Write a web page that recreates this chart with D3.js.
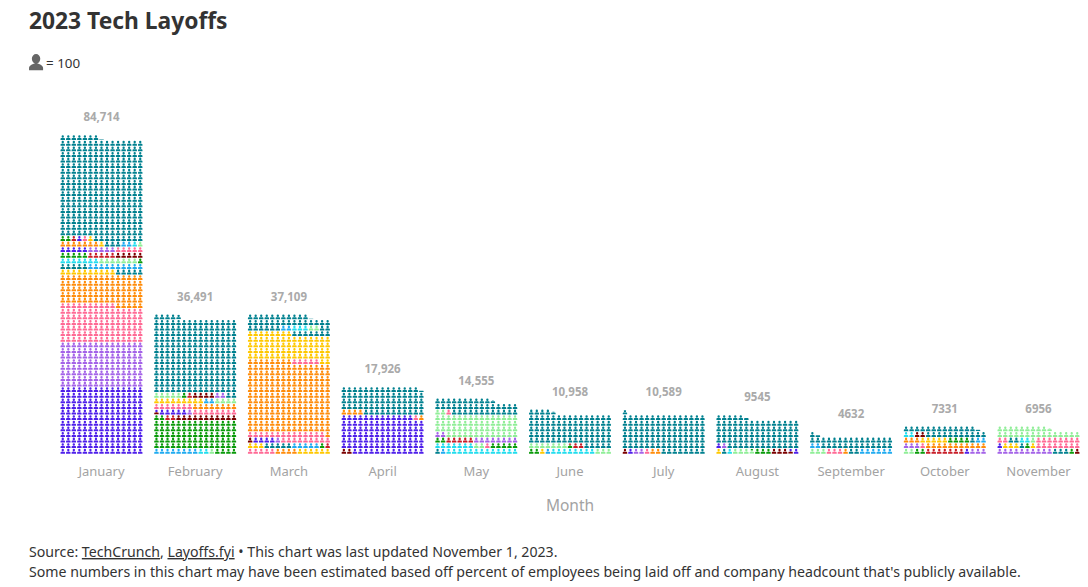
<!DOCTYPE html>
<html>
<head>
<meta charset="utf-8">
<script src="https://cdn.jsdelivr.net/npm/d3@7"></script>
<style>
  body { margin: 0; background: #fff; }
  text { font-family: "Noto Sans", sans-serif; }
  .axis text { fill: #a3a3a3; font-size: 13px; }
  .total { fill: #aaa; font-size: 11.5px; font-weight: 700; text-anchor: middle; }
  .note { fill: #333; font-size: 14.15px; }
</style>
</head>
<body>
<svg id="chart" width="1088" height="587"></svg>
<script>
const months = ["January", "February", "March", "April", "May", "June", "July", "August", "September", "October", "November"];
const totals = [84714, 36491, 37109, 17926, 14555, 10958, 10589, 9545, 4632, 7331, 6956];

const colors = {
  indigo: "#4e1fea", purple: "#a463e8", pink: "#ff6a95", orange: "#ff8c0a",
  yellow: "#ffc800", sky: "#20abf0", cyan: "#22ddee", green: "#0a9a0a",
  red: "#c81e28", maroon: "#7b0000", mint: "#90ee98", teal: "#00808f"
};

// layoffs per colour group, in the order they stack up from the bottom left
const january = [["indigo",18000],["purple",12000],["pink",10000],["orange",8000],["yellow",1000],["teal",1000],["sky",1000],["cyan",700],["mint",700],["green",600],["red",500],["maroon",500],["indigo",500],["purple",500],["pink",500],["orange",700],["yellow",100],["teal",300],["sky",200],["cyan",100],["mint",100],["green",200],["red",100],["indigo",100],["pink",100],["yellow",100],["teal",27114]];
const february = [["sky",800],["cyan",200],["mint",100],["green",8100],["red",200],["maroon",1150],["indigo",550],["purple",100],["pink",1500],["orange",800],["yellow",900],["sky",200],["mint",900],["green",100],["red",100],["maroon",400],["purple",200],["teal",20191]];
const march = [["pink",500],["orange",400],["yellow",900],["teal",500],["sky",500],["green",100],["red",100],["maroon",100],["indigo",400],["purple",100],["pink",2300],["orange",18900],["pink",500],["yellow",7000],["teal",1300],["sky",200],["cyan",300],["mint",200],["teal",2809]];
const april = [["maroon",200],["indigo",10100],["pink",100],["orange",500],["teal",7026]];
const may = [["teal",100],["sky",100],["cyan",2000],["mint",200],["pink",100],["green",700],["red",500],["purple",1000],["mint",6000],["pink",100],["teal",3755]];
const june = [["green",200],["yellow",100],["sky",100],["cyan",800],["mint",1000],["green",70],["red",230],["teal",8458]];
const july = [["maroon",100],["indigo",100],["purple",200],["pink",100],["orange",200],["teal",9889]];
const august = [["yellow",100],["teal",100],["cyan",100],["mint",370],["green",330],["maroon",350],["indigo",250],["purple",100],["teal",7845]];
const september = [["mint",300],["pink",300],["orange",100],["teal",200],["sky",800],["teal",2932]];
const october = [["mint",200],["green",200],["red",700],["indigo",100],["purple",600],["pink",100],["orange",1400],["yellow",500],["green",400],["teal",100],["sky",200],["cyan",200],["maroon",200],["teal",2431]];
const november = [["purple",1000],["teal",300],["green",100],["maroon",100],["indigo",100],["yellow",300],["teal",100],["green",100],["yellow",100],["pink",1000],["teal",200],["cyan",200],["mint",100],["pink",800],["mint",2456]];
const monthSegments = [january, february, march, april, may, june, july, august, september, october, november];

const perIcon = 100;
const perRow = 15;
// small marks: head plus a square shouldered body so the grid keeps its white gaps
const personPath = "M12 1.5a5 5 0 1 1 0 10a5 5 0 1 1 0-10zM2.5 20v-4c0-2.5 2-3.5 4-3.5h11c2 0 4 1 4 3.5v4z";
const legendPath = "M12 2a5.4 5.4 0 1 1 0 10.8a5.4 5.4 0 1 1 0-10.8zM3 20v-2.5c0-3 5-5 9-5s9 2 9 5v2.5z";
const iconTop = 1.5;
const iconBottom = 20;

const svg = d3.select("#chart");
const defs = svg.append("defs");

const x = d3.scaleBand().domain(months).range([54.65, 1085.35]).paddingInner(0.114).paddingOuter(0.057);
const col = d3.scaleBand().domain(d3.range(perRow)).range([0, x.bandwidth()]);
const y = d3.scaleLinear().domain([0, 57]).range([454, 134.8]);
const iconScaleX = 0.235;
const iconScaleY = 0.265;

// walk through the groups and cut them into icons, a split icon is clipped from the bottom
let marks = [];
months.forEach((m, i) => {
  let pos = 0;
  monthSegments[i].forEach(([group, value]) => {
    let end = pos + value / perIcon;
    for (let n = Math.floor(pos + 1e-9); n < end - 1e-9; n++) {
      let lo = Math.max(pos - n, 0);
      let hi = Math.min(end - n, 1);
      marks.push({month: m, group, n, lo, hi});
    }
    pos = end;
  });
});

marks.forEach((d, i) => {
  if (d.lo > 0 || d.hi < 1) {
    d.clip = "c" + i;
    let h = iconBottom - iconTop;
    defs.append("clipPath").attr("id", d.clip)
      .append("rect")
      .attr("x", 0).attr("width", 24)
      .attr("y", iconBottom - h * d.hi)
      .attr("height", h * (d.hi - d.lo));
  }
});

svg.append("g").selectAll("g.icon")
  .data(marks)
  .join("g")
  .attr("class", "icon")
  .attr("transform", d => {
    let c = d.n % perRow;
    let r = Math.floor(d.n / perRow);
    let px = x(d.month) + col(c) + col.bandwidth() / 2 - 12 * iconScaleX;
    let py = y(r) - iconBottom * iconScaleY - 0.3;
    return `translate(${px},${py}) scale(${iconScaleX},${iconScaleY})`;
  })
  .append("path")
  .attr("d", personPath)
  .attr("fill", d => colors[d.group])
  .attr("clip-path", d => d.clip ? `url(#${d.clip})` : null);

const fmt = v => v >= 10000 ? d3.format(",")(v) : String(v);
svg.append("g").selectAll("text")
  .data(months)
  .join("text")
  .attr("class", "total")
  .attr("x", d => x(d) + x.bandwidth() / 2)
  .attr("y", (d, i) => y(Math.ceil(totals[i] / perIcon / perRow)) - 13.5)
  .text((d, i) => fmt(totals[i]));

const axis = svg.append("g")
  .attr("class", "axis")
  .attr("transform", "translate(0,464)")
  .call(d3.axisBottom(x).tickSize(0).tickPadding(3));
axis.select(".domain").remove();

svg.append("text").attr("x", 570).attr("y", 511)
  .attr("text-anchor", "middle").attr("fill", "#a3a3a3").attr("font-size", 15.5).text("Month");

svg.append("text").attr("x", 29).attr("y", 29)
  .attr("fill", "#333").attr("font-size", 22.8).attr("font-weight", 700).text("2023 Tech Layoffs");

svg.append("path").attr("d", legendPath).attr("fill", "#666")
  .attr("transform", "translate(26.7,52.2) scale(0.78,0.9)");
svg.append("text").attr("x", 46).attr("y", 68)
  .attr("fill", "#333").attr("font-size", 13.4).text("= 100");

const src = svg.append("text").attr("class", "note").attr("x", 29).attr("y", 557);
src.append("tspan").text("Source: ");
src.append("tspan").attr("text-decoration", "underline").text("TechCrunch");
src.append("tspan").text(", ");
src.append("tspan").attr("text-decoration", "underline").text("Layoffs.fyi");
src.append("tspan").text(" • This chart was last updated November 1, 2023.");

svg.append("text").attr("class", "note").attr("x", 29).attr("y", 577)
  .text("Some numbers in this chart may have been estimated based off percent of employees being laid off and company headcount that's publicly available.");
</script>
</body>
</html>
